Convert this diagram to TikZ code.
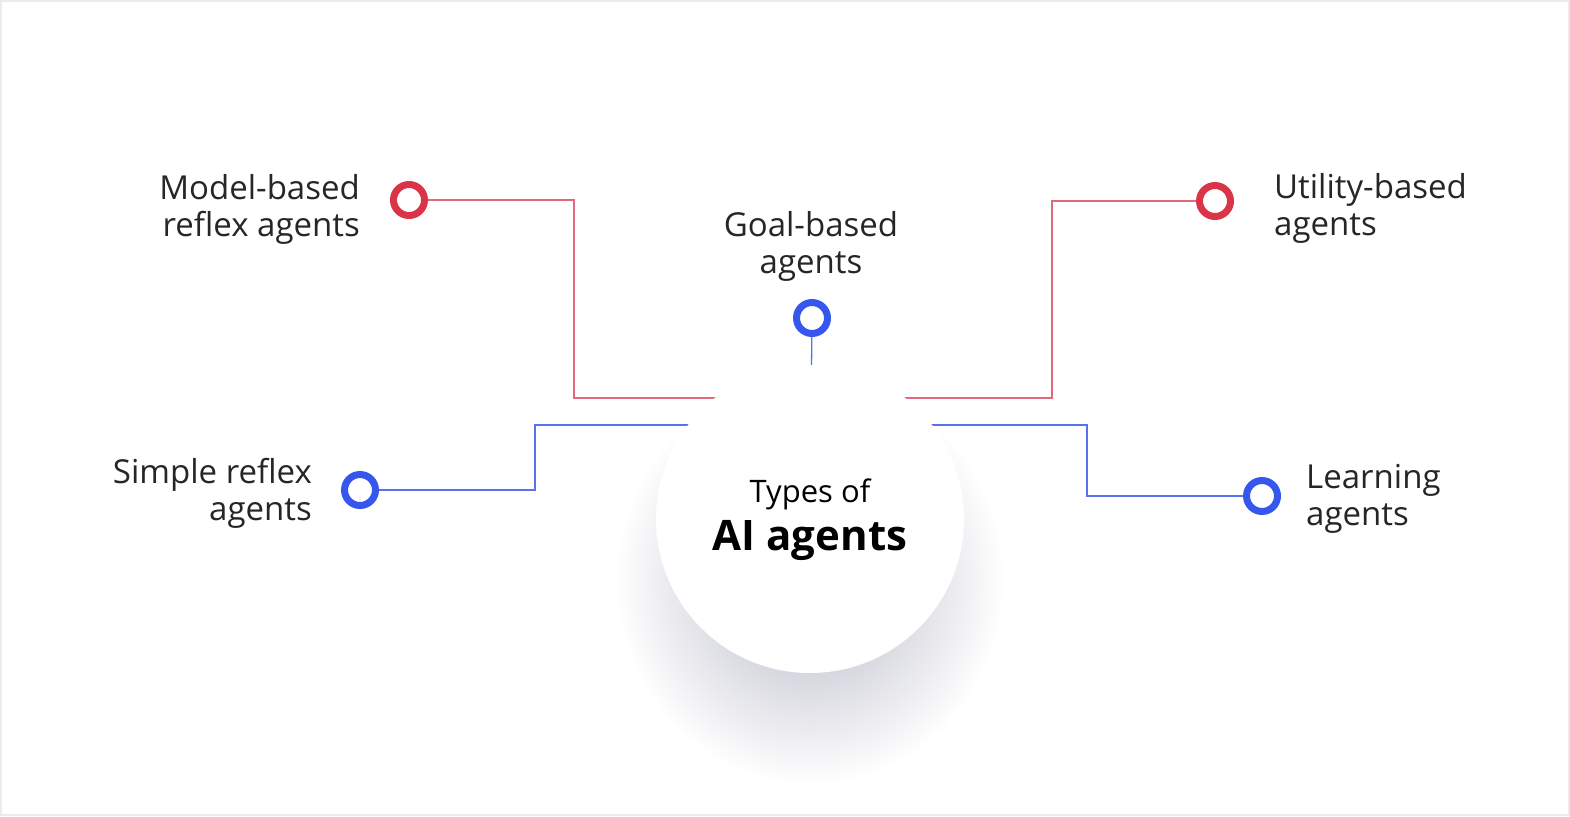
\documentclass[tikz,border=0pt]{standalone}
\usepackage{fontspec}
\setmainfont{Open Sans}
\usetikzlibrary{backgrounds}
\definecolor{ringred}{HTML}{D93448}
\definecolor{linered}{HTML}{E2697A}
\definecolor{ringblue}{HTML}{3557EE}
\definecolor{lineblue}{HTML}{5872EE}
\definecolor{textgray}{HTML}{262626}
\definecolor{framegray}{HTML}{EBEBEB}
\definecolor{shadowgray}{HTML}{B4B6C4}

\begin{document}
\begin{tikzpicture}[x=1pt, y=-1pt]
    \tikzset{ring/.style = {shape=circle, draw, line width=7pt, fill=white, inner sep=0pt, minimum size=31pt}}
    \tikzset{redline/.style = {draw=linered, line width=1.3pt}}
    \tikzset{blueline/.style = {draw=lineblue, line width=1.3pt}}
    \tikzset{label/.style = {text=textgray, font=\fontsize{33}{37}\selectfont, inner sep=0pt}}
    \tikzset{hub/.style = {shape=circle, fill=white, minimum size=308pt, inner sep=0pt}}

    % hub
    \node[hub] (ai) at (810,519) {};
    \node[text=black, font=\fontsize{31}{36}\selectfont, inner sep=0pt] (types) at (810,494) {Types of};
    \node[text=black, font=\fontsize{42}{48}\selectfont\bfseries, inner sep=0pt] (agents) at (810,540) {AI agents};

    % rings
    \node[ring, draw=ringred]  (mr) at (409,200) {};
    \node[ring, draw=ringred]  (ur) at (1215,201) {};
    \node[ring, draw=ringblue] (gr) at (812,318) {};
    \node[ring, draw=ringblue] (sr) at (360,490) {};
    \node[ring, draw=ringblue] (lr) at (1262,496) {};

    % labels
    \node[label, align=right, anchor=east]  (ml) at (360,209)  {Model-based\\reflex agents};
    \node[label, align=center]              (gl) at (811,246)  {Goal-based\\agents};
    \node[label, align=left, anchor=west]   (ul) at (1274,208) {Utility-based\\agents};
    \node[label, align=right, anchor=east]  (sl) at (312,493)  {Simple reflex\\agents};
    \node[label, align=left, anchor=west]   (ll) at (1306,499) {Learning\\agents};

    % bends
    \coordinate (mb) at (574,398);
    \coordinate (ub) at (1052,398);
    \coordinate (sb) at (535,425);
    \coordinate (lb) at (1087,425);

    \begin{scope}[on background layer]
        % frame and shadow
        \fill[framegray] (0,0) rectangle (1570,816);
        \fill[white] (2,2) rectangle (1568,814);
        \shade[inner color=shadowgray, outer color=white] (810,580) ellipse (195pt and 205pt);

        % edges
        \draw[redline]  (mr) -| (mb) -- (ai.center |- mb);
        \draw[redline]  (ur) -| (ub) -- (ai.center |- ub);
        \draw[blueline] (sr) -| (sb) -- (ai.center |- sb);
        \draw[blueline] (lr) -| (lb) -- (ai.center |- lb);
        \draw[blueline] (gr) -- (ai.center);
    \end{scope}
\end{tikzpicture}
\end{document}
